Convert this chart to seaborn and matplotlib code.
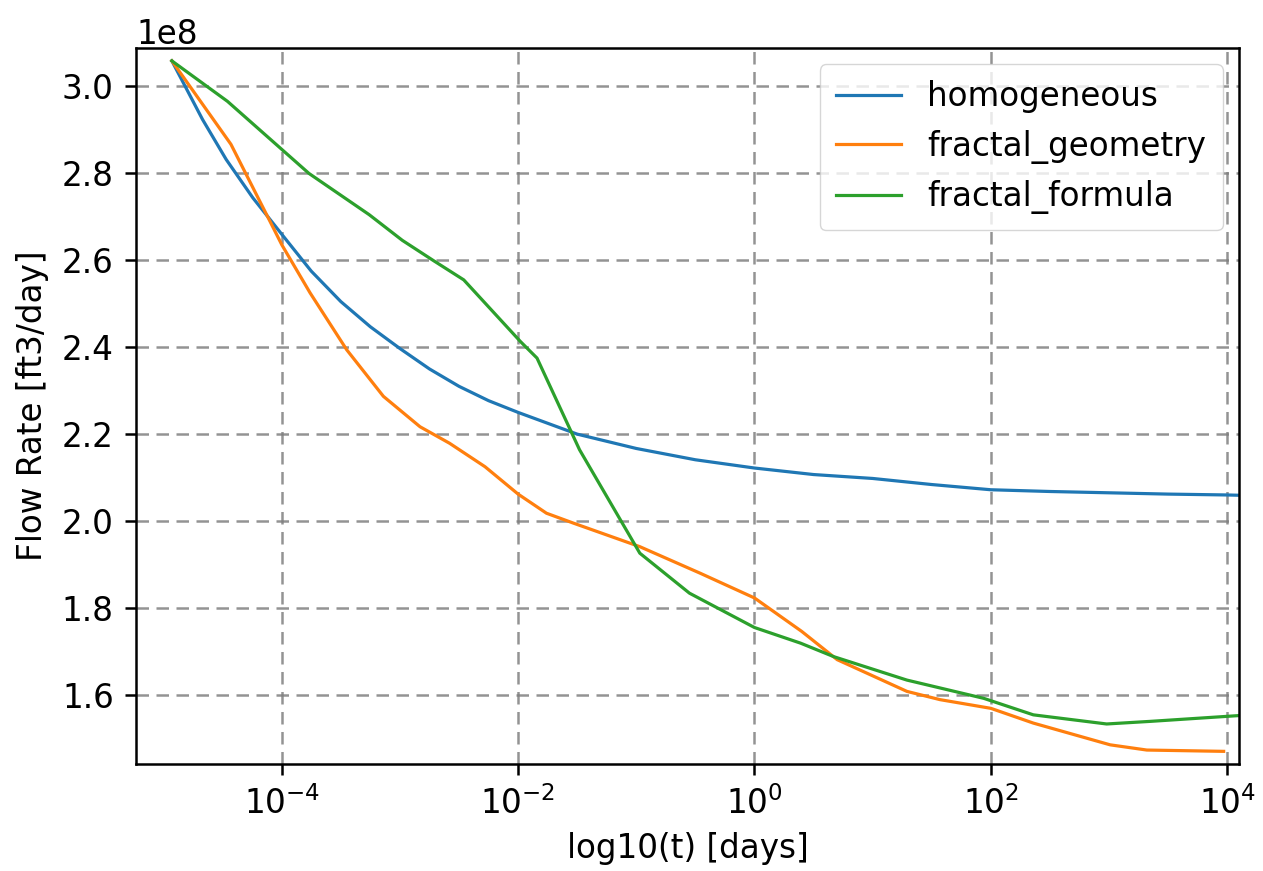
import numpy as np
import pandas as pd
import matplotlib
matplotlib.use("Agg")
import matplotlib.pyplot as plt
import matplotlib.ticker as mticker
import seaborn as sns

# log10(t) positions and flow rates (ft3/day, in units of 1e8)
homog_logt = [-4.93, -4.67, -4.47, -4.245, -4.0, -3.75, -3.5, -3.25, -3.0,
              -2.75, -2.5, -2.25, -2.0, -1.5, -1.0, -0.5, 0.0, 0.5, 1.0, 1.5,
              2.0, 2.5, 3.0, 3.5, 4.0, 4.15]
homog_q = [3.059, 2.924, 2.832, 2.744, 2.66, 2.575, 2.505, 2.447, 2.397,
           2.35, 2.31, 2.277, 2.25, 2.20, 2.167, 2.141, 2.122, 2.107, 2.098,
           2.084, 2.072, 2.068, 2.065, 2.062, 2.060, 2.059]

geom_logt = [-4.93, -4.43, -4.1, -4.0, -3.76, -3.45, -3.14, -2.83, -2.58, -2.28,
             -2.0, -1.76, -1.53, -0.97, -0.46, 0.0, 0.4, 0.7, 1.29, 1.57, 2.0,
             2.36, 3.01, 3.32, 3.97]
geom_q = [3.059, 2.867, 2.69, 2.636, 2.525, 2.394, 2.287, 2.217, 2.179, 2.125,
          2.062, 2.018, 1.995, 1.941, 1.880, 1.823, 1.746, 1.681, 1.608, 1.589,
          1.569, 1.535, 1.485, 1.473, 1.470]

form_logt = [-4.93, -4.46, -3.77, -3.26, -2.98, -2.72, -2.46, -1.98,
             -1.84, -1.48, -0.97, -0.55, 0.0, 0.39, 0.67, 1.29, 1.94, 2.36, 2.98,
             3.35, 4.08, 4.15]
form_q = [3.059, 2.966, 2.80, 2.705, 2.646, 2.60, 2.555, 2.413,
          2.375, 2.164, 1.926, 1.834, 1.755, 1.719, 1.688, 1.634, 1.592, 1.554,
          1.533, 1.539, 1.552, 1.553]

series_names = ["homogeneous", "fractal_geometry", "fractal_formula"]
colors = ["#1f77b4", "#ff7f0e", "#2ca02c"]

frames = []
for name, lt, q in [(series_names[0], homog_logt, homog_q),
                    (series_names[1], geom_logt, geom_q),
                    (series_names[2], form_logt, form_q)]:
    frames.append(pd.DataFrame({"t": 10.0 ** np.array(lt),
                                "q": np.array(q) * 1e8,
                                "series": name}))
df = pd.concat(frames, ignore_index=True)

plt.rcParams["font.family"] = ["DejaVu Sans"]
fs = 23.5

fig = plt.figure(figsize=(12.63, 8.71), dpi=100)
ax = fig.add_axes([0.1077, 0.1229, 0.8733, 0.8222])

sns.lineplot(data=df, x="t", y="q", hue="series", hue_order=series_names,
             palette=colors, linewidth=2.3, ax=ax, sort=False, estimator=None)

ax.set_xscale("log")
ax.set_xlim(10 ** -5.233, 10 ** 4.10)
ax.set_ylim(1.441e8, 3.089e8)
ax.set_xticks([1e-4, 1e-2, 1e0, 1e2, 1e4])
ax.xaxis.set_minor_locator(mticker.NullLocator())
ax.yaxis.set_major_locator(mticker.MultipleLocator(0.2e8))

ax.grid(True, which="major", linestyle=(0, (5, 3)), color="#808080",
        linewidth=1.8, alpha=0.85)

ax.set_xlabel("log10(t) [days]", fontsize=fs, labelpad=8)
ax.set_ylabel("Flow Rate [ft3/day]", fontsize=fs, labelpad=9)
ax.tick_params(axis="both", labelsize=fs, length=8, width=1.8, direction="out",
               pad=8)
ax.yaxis.get_offset_text().set_fontsize(fs)
for sp in ax.spines.values():
    sp.set_linewidth(1.8)
    sp.set_color("black")

leg = ax.legend(loc="upper right", fontsize=fs, frameon=True, title=None,
                borderpad=0.5, handlelength=2.0)
for line in leg.get_lines():
    line.set_linewidth(2.3)

fig.savefig("out.png", dpi=100)
